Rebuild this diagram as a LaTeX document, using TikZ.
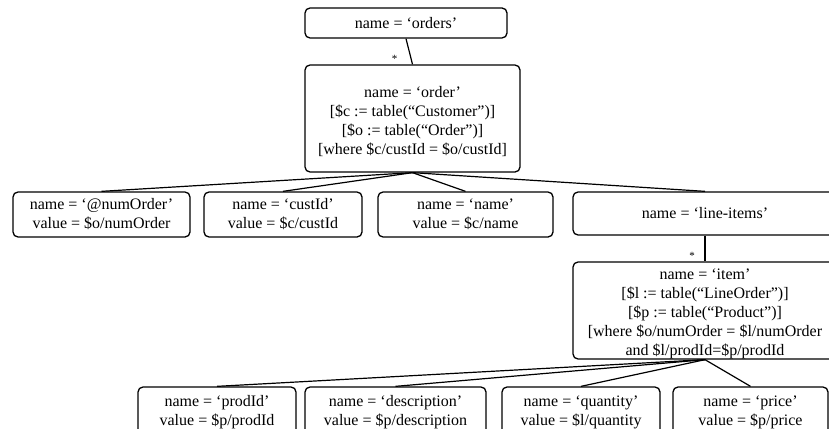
\documentclass[tikz,border=0pt]{standalone}
\usepackage{fontspec}
\setmainfont{Liberation Serif}
% extra room above the first line pushes a text block slightly downwards
\newcommand{\toppad}{\rule{0pt}{17.5pt}}
\begin{document}
\begin{tikzpicture}[x=1pt,y=-1pt,
  elem/.style={draw, line width=1.3pt, rounded corners=5pt, inner sep=0pt,
    align=center, font=\fontsize{16}{19}\selectfont},
  link/.style={line width=1.2pt},
  mult/.style={font=\fontsize{11}{11}\selectfont, inner sep=0pt, anchor=south}]
\useasboundingbox (0,0) rectangle (829,428);
\clip (0,0) rectangle (829,428);

% root and repeated order element
\node[elem, minimum width=202pt, minimum height=30pt] (orders) at (406,23) {name = ‘orders’};
\node[elem, minimum width=215pt, minimum height=107pt] (order) at (412.5,118.5)
  {\toppad name = ‘order’\\{[}\$c := table(“Customer”)]\\{[}\$o := table(“Order”)]\\{[}where \$c/custId = \$o/custId]};

% children of order
\node[elem, minimum width=177pt, minimum height=45pt] (numorder) at (101.5,214.5)
  {name = ‘@numOrder’\\value = \$o/numOrder};
\node[elem, minimum width=158pt, minimum height=45pt] (custid) at (283,214.5)
  {name = ‘custId’\\value = \$c/custId};
\node[elem, minimum width=175pt, minimum height=45pt] (cname) at (465.5,214.5)
  {name = ‘name’\\value = \$c/name};
\node[elem, minimum width=264pt, minimum height=43pt] (lineitems) at (705,213.5)
  {name = ‘line-items’};

% repeated item element
\node[elem, minimum width=264pt, minimum height=97pt] (item) at (705,310.5)
  {\toppad name = ‘item’\\{[}\$l := table(“LineOrder”)]\\{[}\$p := table(“Product”)]\\{[}where \$o/numOrder = \$l/numOrder\\and \$l/prodId=\$p/prodId};

% children of item
\node[elem, minimum width=158pt, minimum height=50pt] (prodid) at (217,412)
  {name = ‘prodId’\\value = \$p/prodId};
\node[elem, minimum width=181pt, minimum height=50pt] (descr) at (395.5,412)
  {name = ‘description’\\value = \$p/description};
\node[elem, minimum width=158pt, minimum height=50pt] (qty) at (581,412)
  {name = ‘quantity’\\value = \$l/quantity};
\node[elem, minimum width=155pt, minimum height=50pt] (price) at (750.5,412)
  {name = ‘price’\\value = \$p/price};

% connectors, with the multiplicity marks of the repeated elements
\draw[link] (orders.south) -- (order.north)
  node[mult, pos=1, xshift=-18pt, yshift=1pt] {*};
\foreach \c in {numorder, custid, cname, lineitems}
  \draw[link] (order.south) -- (\c.north);
\draw[link] (lineitems.south) -- (item.north)
  node[mult, pos=1, xshift=-13pt, yshift=1pt] {*};
\foreach \c in {prodid, descr, qty, price}
  \draw[link] (item.south) -- (\c.north);
\end{tikzpicture}
\end{document}
